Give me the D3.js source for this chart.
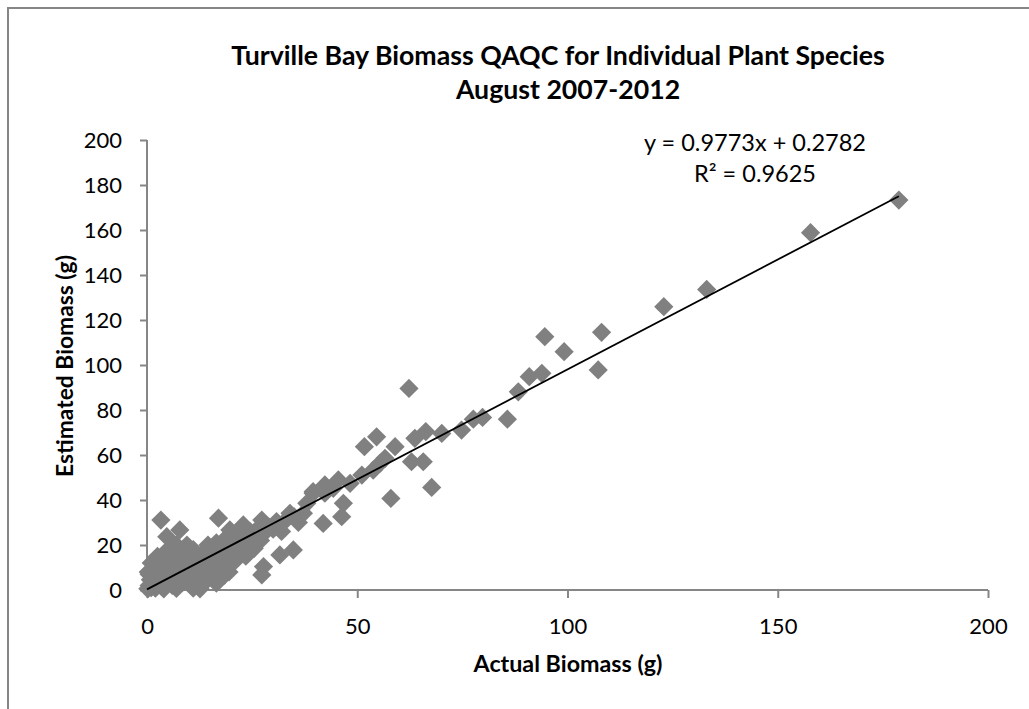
<!DOCTYPE html>
<html>
<head>
<meta charset="utf-8">
<script src="https://cdn.jsdelivr.net/npm/d3@7"></script>
<style>
  html, body { margin: 0; padding: 0; background: #fff; }
  svg { display: block; font-family: Lato, "Open Sans", sans-serif; }
</style>
</head>
<body>
<svg id="chart" width="1029" height="709"></svg>
<script>
// x = actual biomass (g), y = estimated biomass (g)
const actual = [
  178.8, 157.8, 133.1, 122.9, 108.1, 107.3, 99.2, 94.6, 93.9, 90.9, 88.3, 85.7,
  79.8, 77.6, 74.8, 70.1, 66.3, 63.7, 62.3, 59.0, 54.6, 51.7, 65.7, 62.9, 67.7,
  58.0, 55.4, 56.6, 53.8, 51.1, 48.3, 45.5, 44.3, 42.3, 39.5, 46.7, 46.3, 41.9,
  38.0, 37.2, 34.0, 30.8, 27.3, 22.9, 19.7, 17.0, 3.3, 7.8, 4.7, 42.3, 39.5,
  34.8, 31.6, 27.7, 27.3, 18.5, 12.6,
  0.2, 0.5, 1.0, 1.5, 0.8, 2.0, 2.5, 3.0, 3.5, 4.0, 1.2, 0.5, 2.0, 3.0, 4.5,
  5.0, 5.5, 6.0, 6.5, 7.0, 7.5, 8.0, 8.5, 9.0, 9.5, 10.0, 10.5, 11.0, 11.5,
  12.0, 12.5, 13.0, 13.5, 14.0, 14.5, 15.0, 15.5, 16.0, 16.5, 17.0, 17.5,
  18.0, 18.5, 19.0, 19.5, 20.0, 20.5, 21.0, 21.5, 22.0, 22.5, 23.0, 23.5,
  24.0, 24.5, 25.0, 25.5, 26.0, 26.5, 27.0, 28.0, 29.0, 30.0, 31.0, 32.0,
  33.0, 35.0, 36.0, 5.0, 6.0, 3.5, 2.5, 7.0, 8.0, 9.5, 1.0, 1.8, 10.0, 11.0,
  4.0, 7.0, 8.5, 14.0, 15.0, 16.5, 13.0, 8.8, 0.3, 1.0, 2.2
];
const estimated = [
  173.3, 158.8, 133.6, 125.9, 114.5, 97.8, 105.9, 112.6, 96.3, 94.8, 88.1, 75.9,
  76.7, 75.9, 71.1, 69.6, 70.4, 67.4, 89.6, 63.7, 68.1, 63.7, 57.0, 57.0, 45.6,
  40.7, 56.3, 58.5, 53.3, 51.1, 47.4, 48.9, 45.2, 43.0, 43.0, 38.5, 32.6, 29.6,
  38.5, 34.1, 34.1, 30.4, 31.1, 28.9, 26.7, 31.9, 31.1, 26.7, 23.7, 46.7, 43.7,
  17.8, 15.6, 10.4, 6.7, 6.7, 0.5,
  0.5, 2.0, 1.0, 3.0, 4.5, 0.8, 2.5, 5.0, 1.5, 3.5, 6.0, 7.0, 8.5, 10.0, 12.0,
  8.0, 5.0, 2.0, 10.5, 14.0, 7.0, 11.0, 16.0, 5.0, 12.5, 9.0, 15.0, 18.0, 11.0,
  6.0, 13.0, 2.0, 16.5, 10.0, 20.0, 13.0, 17.0, 8.5, 21.0, 14.0, 18.0,
  11.0, 22.5, 16.0, 8.0, 19.5, 24.5, 13.0, 21.0, 17.0, 25.0, 20.0, 15.0,
  23.0, 26.0, 21.0, 18.5, 24.0, 27.5, 22.0, 25.5, 28.0, 27.0, 29.0, 26.0,
  31.0, 32.5, 30.0, 18.0, 16.0, 13.0, 15.0, 20.0, 17.5, 20.0, 9.0, 11.5, 3.0, 0.8,
  0.5, 0.7, 3.5, 4.5, 6.0, 3.0, 7.5, 15.6, 8.0, 12.0, 5.5
];
const xTicks = [0, 50, 100, 150, 200];
const yTicks = [0, 20, 40, 60, 80, 100, 120, 140, 160, 180, 200];
const slope = 0.9773;
const intercept = 0.2782;
const rSquared = 0.9625;
const titleLines = ["Turville Bay Biomass QAQC for Individual Plant Species", "August 2007-2012"];

const svg = d3.select("#chart");
const axisColor = "#868686";

// chart frame (right and bottom sides fall outside the picture)
svg.append("rect")
  .attr("x", 8).attr("y", 8)
  .attr("width", 1040).attr("height", 720)
  .attr("fill", "none")
  .attr("stroke", axisColor)
  .attr("stroke-width", 2);

const x = d3.scaleLinear().domain([0, 200]).range([147, 988]);
const y = d3.scaleLinear().domain([0, 200]).range([590, 140]);

// scale a text's font size so it spans the target width
function fit(sel, target) {
  const w = sel.node().getComputedTextLength();
  const fs = parseFloat(sel.attr("font-size"));
  sel.attr("font-size", fs * target / w);
  return fs * target / w;
}

// axes
const xAxis = svg.append("g")
  .attr("transform", `translate(0,${y(0)})`)
  .call(d3.axisBottom(x).tickValues(xTicks).tickSize(8).tickPadding(20));
const yAxis = svg.append("g")
  .attr("transform", `translate(${x(0)},0)`)
  .call(d3.axisLeft(y).tickValues(yTicks).tickSize(7).tickPadding(18));

for (const ax of [xAxis, yAxis]) {
  ax.select(".domain").attr("stroke", axisColor).attr("stroke-width", 2);
  ax.selectAll(".tick line").attr("stroke", axisColor).attr("stroke-width", 2);
  ax.selectAll(".tick text")
    .attr("fill", "#000")
    .attr("font-family", "Lato, sans-serif")
    .attr("font-size", 22);
}
xAxis.select(".domain").attr("d", `M${x(0)},0H${x(200)}`);
yAxis.select(".domain").attr("d", `M0,${y(0)}V${y(200)}`);
yAxis.selectAll(".tick text").attr("dy", "0.36em");

// points
const pts = actual.map((a, i) => [a, estimated[i]]);
const diamond = d3.symbol().type(d3.symbolSquare).size(185);
svg.append("g")
  .selectAll("path")
  .data(pts)
  .join("path")
  .attr("d", diamond)
  .attr("transform", d => `translate(${x(d[0])},${y(d[1])}) rotate(45)`)
  .attr("fill", "#808080");

// linear trendline
const xMax = d3.max(actual);
svg.append("line")
  .attr("x1", x(0)).attr("y1", y(intercept))
  .attr("x2", x(xMax)).attr("y2", y(slope * xMax + intercept))
  .attr("stroke", "#000")
  .attr("stroke-width", 1.8);

// title
const t1 = svg.append("text")
  .attr("x", 558).attr("y", 65)
  .attr("text-anchor", "middle")
  .attr("font-weight", "bold")
  .attr("font-size", 26)
  .text(titleLines[0]);
const tfs = fit(t1, 654);
svg.append("text")
  .attr("x", 568).attr("y", 99)
  .attr("text-anchor", "middle")
  .attr("font-weight", "bold")
  .attr("font-size", tfs)
  .text(titleLines[1]);

// axis titles
const xl = svg.append("text")
  .attr("x", 568).attr("y", 672)
  .attr("text-anchor", "middle")
  .attr("font-weight", "bold")
  .attr("font-size", 20)
  .text("Actual Biomass (g)");
fit(xl, 189);
const yl = svg.append("text")
  .attr("transform", "translate(73,366) rotate(-90)")
  .attr("text-anchor", "middle")
  .attr("font-weight", "bold")
  .attr("font-size", 20)
  .text("Estimated Biomass (g)");
fit(yl, 222);

// equation label
const eq = svg.append("text")
  .attr("x", 755).attr("y", 151)
  .attr("text-anchor", "middle")
  .attr("font-size", 22)
  .text(`y = ${slope}x + ${intercept}`);
const efs = fit(eq, 222);
svg.append("text")
  .attr("x", 755).attr("y", 182)
  .attr("text-anchor", "middle")
  .attr("font-size", efs)
  .text(`R² = ${rSquared}`);
</script>
</body>
</html>
